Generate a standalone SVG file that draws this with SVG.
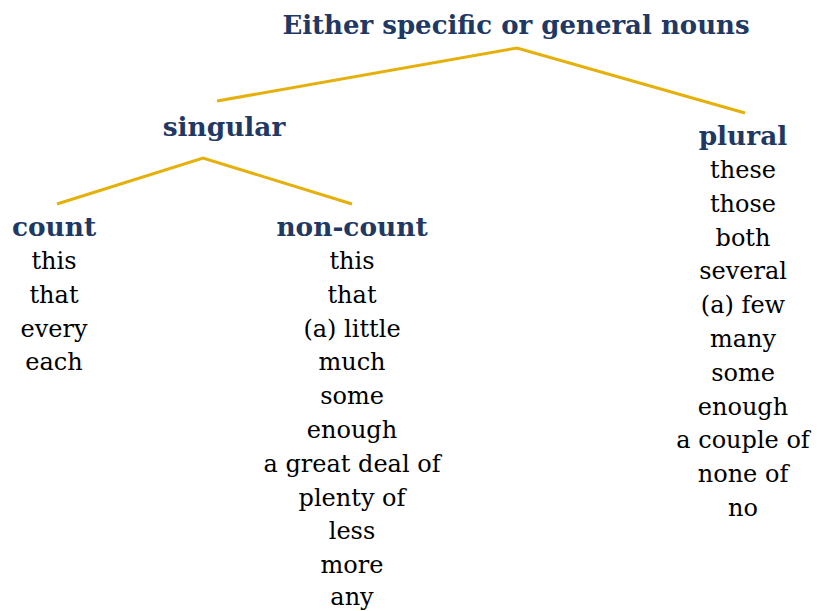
<svg xmlns="http://www.w3.org/2000/svg" width="817" height="611" viewBox="0 0 817 611">
<style>
.h{font-family:"DejaVu Serif","Liberation Serif",serif;font-weight:bold;fill:#1F3864;font-size:26.4px;text-anchor:middle}
.t{font-family:"DejaVu Serif","Liberation Serif",serif;fill:#000;font-size:24px;text-anchor:middle}
.c{fill:none;stroke:#E6B00A;stroke-width:3;stroke-linejoin:miter}
</style>
<rect width="817" height="611" fill="#fff"/>
<g id="connectors">
<polyline class="c" points="217,101 517,48 745,113"/>
<polyline class="c" points="57,204 203,158 352,204"/>
</g>
<g id="root"><text class="h" x="516" y="34" style="font-size:26px">Either specific or general nouns</text></g>
<g id="singular"><text class="h" x="224" y="136">singular</text></g>
<g id="plural">
<text class="h" x="743" y="145">plural</text>
<text class="t"><tspan x="743" y="178">these</tspan><tspan x="743" y="212">those</tspan><tspan x="743" y="246">both</tspan><tspan x="743" y="279">several</tspan><tspan x="743" y="313">(a) few</tspan><tspan x="743" y="347">many</tspan><tspan x="743" y="381">some</tspan><tspan x="743" y="415">enough</tspan><tspan x="743" y="448">a couple of</tspan><tspan x="743" y="482">none of</tspan><tspan x="743" y="516">no</tspan></text>
</g>
<g id="count">
<text class="h" x="54" y="236">count</text>
<text class="t"><tspan x="54" y="269">this</tspan><tspan x="54" y="303">that</tspan><tspan x="54" y="337">every</tspan><tspan x="54" y="370">each</tspan></text>
</g>
<g id="noncount">
<text class="h" x="352" y="236">non-count</text>
<text class="t"><tspan x="352" y="269">this</tspan><tspan x="352" y="303">that</tspan><tspan x="352" y="337">(a) little</tspan><tspan x="352" y="370">much</tspan><tspan x="352" y="404">some</tspan><tspan x="352" y="438">enough</tspan><tspan x="352" y="472">a great deal of</tspan><tspan x="352" y="506">plenty of</tspan><tspan x="352" y="539">less</tspan><tspan x="352" y="573">more</tspan><tspan x="352" y="605">any</tspan></text>
</g>
</svg>
